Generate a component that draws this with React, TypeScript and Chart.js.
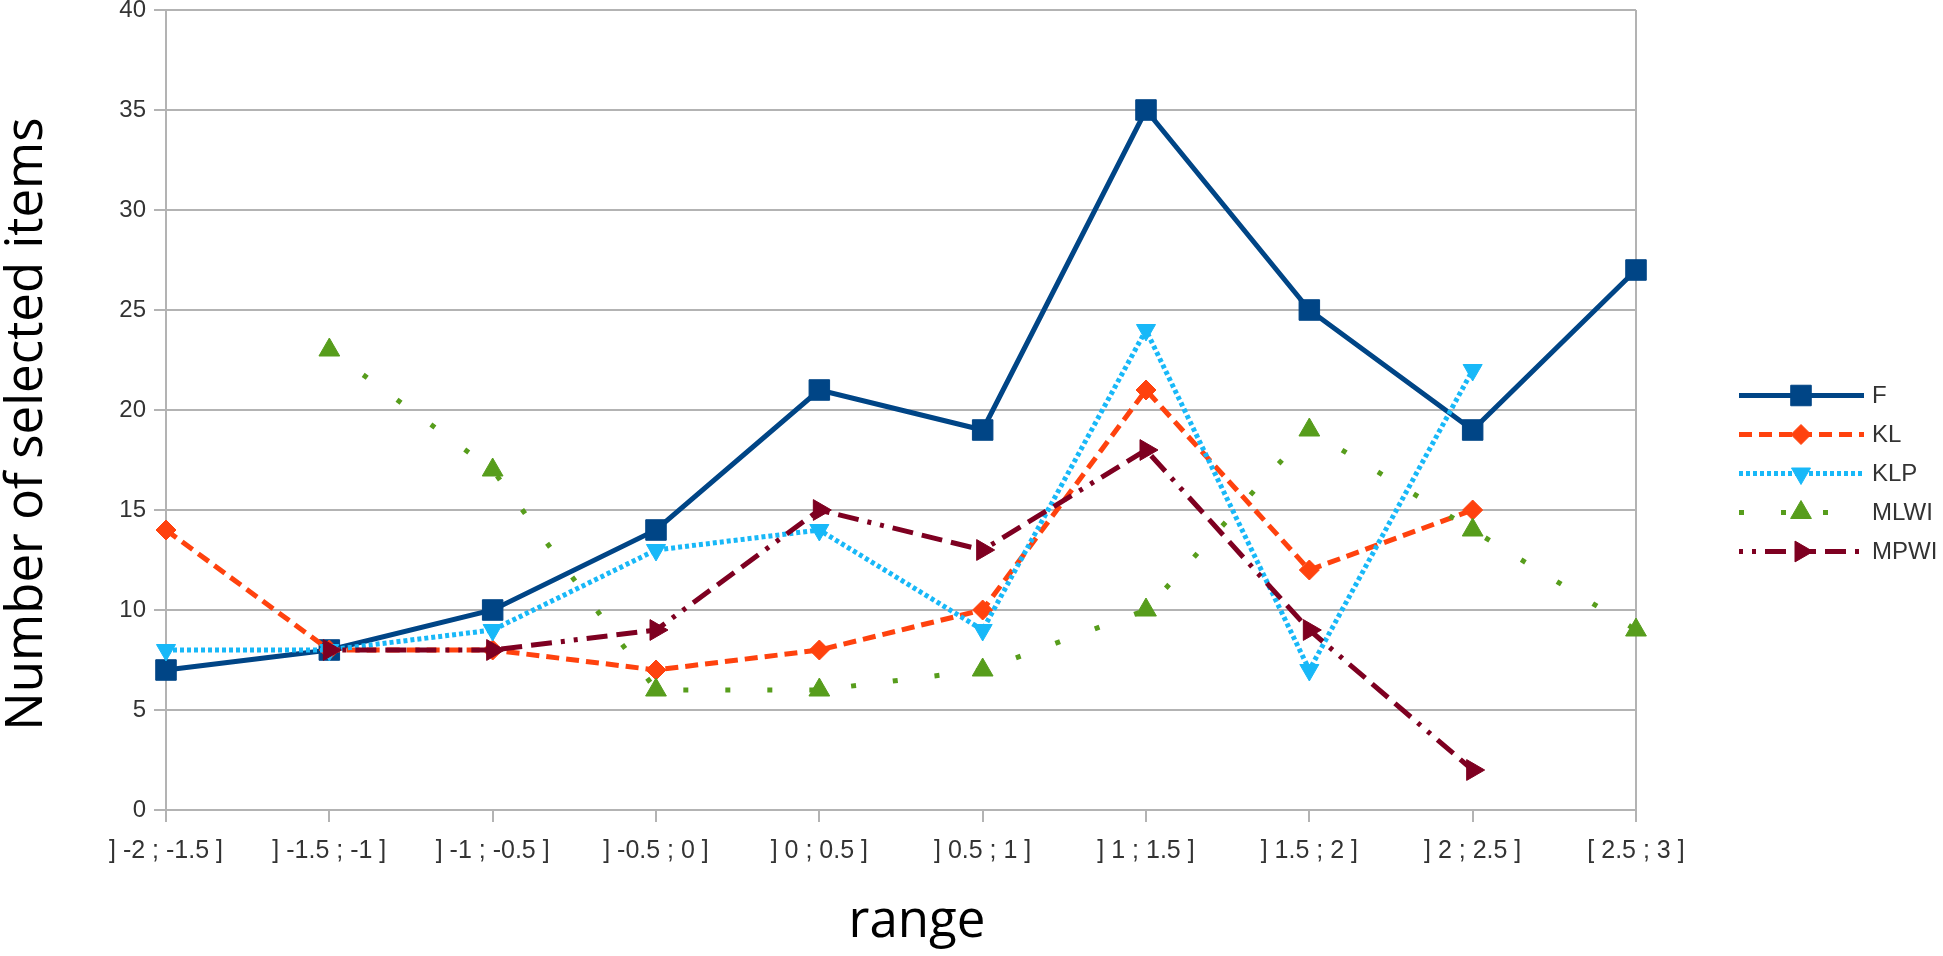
import React, { useEffect, useRef } from "react";
import { Chart, registerables } from "chart.js";

Chart.register(...registerables);

const categories = [
  "] -2 ; -1.5 ]",
  "] -1.5 ; -1 ]",
  "] -1 ; -0.5 ]",
  "] -0.5 ; 0 ]",
  "] 0 ; 0.5 ]",
  "] 0.5 ; 1 ]",
  "] 1 ; 1.5 ]",
  "] 1.5 ; 2 ]",
  "] 2 ; 2.5 ]",
  "[ 2.5 ; 3 ]",
];

const seriesF = [7, 8, 10, 14, 21, 19, 35, 25, 19, 27];
const seriesKL = [14, 8, 8, 7, 8, 10, 21, 12, 15, null];
const seriesKLP = [8, 8, 9, 13, 14, 9, 24, 7, 22, null];
const seriesMLWI = [null, 23, 17, 6, 6, 7, 10, 19, 14, 9];
const seriesMPWI = [null, 8, 8, 9, 15, 13, 18, 9, 2, null];

const yTicks = [0, 5, 10, 15, 20, 25, 30, 35, 40];

const xTitle = "range";
const yTitle = "Number of selected items";

const GRID = "#b3b3b3";
const TEXT = "#333333";
const TITLE_FONT = "51px 'Open Sans', sans-serif";

function drawMarker(ctx: CanvasRenderingContext2D, style: string, r: number, rotDeg: number, x: number, y: number) {
  const rad = (rotDeg * Math.PI) / 180;
  ctx.beginPath();
  if (style === "rect") {
    const s = Math.SQRT1_2 * r;
    ctx.rect(x - s, y - s, 2 * s, 2 * s);
  } else if (style === "rectRot") {
    ctx.moveTo(x, y - r);
    ctx.lineTo(x + r, y);
    ctx.lineTo(x, y + r);
    ctx.lineTo(x - r, y);
    ctx.closePath();
  } else if (style === "triangle") {
    let a = rad;
    ctx.moveTo(x + Math.sin(a) * r, y - Math.cos(a) * r);
    a += (2 * Math.PI) / 3;
    ctx.lineTo(x + Math.sin(a) * r, y - Math.cos(a) * r);
    a += (2 * Math.PI) / 3;
    ctx.lineTo(x + Math.sin(a) * r, y - Math.cos(a) * r);
    ctx.closePath();
  }
  ctx.fill();
  ctx.stroke();
}

const legendPlugin = {
  id: "customLegend",
  afterDraw(chart: any) {
    const ctx = chart.ctx as CanvasRenderingContext2D;
    const x0 = 1739;
    const x1 = 1864;
    const xm = 1801;
    const textX = 1872;
    const y0 = 395.5;
    const dy = 39;
    chart.data.datasets.forEach((ds: any, i: number) => {
      const y = y0 + i * dy;
      ctx.save();
      ctx.strokeStyle = ds.borderColor;
      ctx.lineWidth = ds.borderWidth;
      ctx.setLineDash(ds.borderDash || []);
      ctx.lineCap = "butt";
      ctx.beginPath();
      ctx.moveTo(x0, y);
      ctx.lineTo(x1, y);
      ctx.stroke();
      ctx.setLineDash([]);
      ctx.fillStyle = ds.pointBackgroundColor;
      ctx.strokeStyle = ds.pointBorderColor;
      ctx.lineWidth = 1;
      drawMarker(ctx, ds.pointStyle, ds.pointRadius, ds.pointRotation || 0, xm, y);
      ctx.fillStyle = TEXT;
      ctx.font = "24px 'Liberation Sans', Arial, sans-serif";
      ctx.textBaseline = "middle";
      ctx.textAlign = "left";
      ctx.fillText(ds.label, textX, y + 1);
      ctx.restore();
    });
    // axis titles
    ctx.save();
    ctx.fillStyle = "#000";
    ctx.font = TITLE_FONT;
    ctx.textAlign = "center";
    ctx.textBaseline = "middle";
    ctx.fillText(xTitle, 917, 922);
    ctx.translate(27, 424);
    ctx.rotate(-Math.PI / 2);
    ctx.fillText(yTitle, 0, 0);
    ctx.restore();
  },
};

function mkSet(label: string, data: (number | null)[], color: string, dash: number[], style: string, radius: number, rotation: number, order: number) {
  return {
    label,
    data,
    borderColor: color,
    backgroundColor: color,
    borderWidth: 5,
    borderDash: dash,
    pointStyle: style,
    pointRadius: radius,
    pointHoverRadius: radius,
    pointRotation: rotation,
    pointBackgroundColor: color,
    pointBorderColor: color,
    pointBorderWidth: 1,
    tension: 0,
    fill: false,
    spanGaps: false,
    order,
  };
}

export default function App() {
  const ref = useRef<HTMLCanvasElement | null>(null);
  useEffect(() => {
    if (!ref.current) return;
    const chart = new Chart(ref.current, {
      type: "line",
      data: {
        labels: categories,
        datasets: [
          mkSet("F", seriesF, "#004586", [], "rect", 14.5, 0, 4),
          mkSet("KL", seriesKL, "#ff420e", [13, 7], "rectRot", 10, 0, 3),
          mkSet("KLP", seriesKLP, "#18b8f8", [4, 3], "triangle", 11, 180, 2),
          mkSet("MLWI", seriesMLWI, "#579d1c", [5, 37], "triangle", 12, 0, 1),
          mkSet("MPWI", seriesMPWI, "#7e0021", [4, 9, 4, 9, 21, 9, 21, 9, 21, 9], "triangle", 12, 90, 0),
        ] as any,
      },
      options: {
        animation: false,
        responsive: true,
        maintainAspectRatio: false,
        layout: { autoPadding: false, padding: { top: 0, right: 307, bottom: 0, left: 0 } },
        plugins: {
          legend: { display: false },
          tooltip: { enabled: false },
        },
        scales: {
          x: {
            offset: false,
            grid: {
              display: true,
              color: (c: any) => (c.index === categories.length - 1 ? GRID : "rgba(0,0,0,0)"),
              tickColor: GRID,
              lineWidth: 2,
              tickLength: 12,
            },
            border: { display: true, color: GRID, width: 2 },
            ticks: {
              color: TEXT,
              font: { family: "'Liberation Sans', Arial, sans-serif", size: 25 },
              padding: 14,
              maxRotation: 0,
              autoSkip: false,
            },
            afterFit: (s: any) => {
              s.height = 146;
            },
          },
          y: {
            min: 0,
            max: 40,
            afterBuildTicks: (s: any) => {
              s.ticks = yTicks.map((v) => ({ value: v }));
            },
            grid: {
              color: GRID,
              tickColor: GRID,
              lineWidth: 2,
              tickLength: 12,
            },
            border: { display: true, color: GRID, width: 2 },
            ticks: {
              color: TEXT,
              font: { family: "'Liberation Sans', Arial, sans-serif", size: 24 },
              padding: 8,
            },
            afterFit: (s: any) => {
              s.width = 166;
              s.paddingTop = 10;
              s.paddingBottom = 0;
            },
          },
        },
      },
      plugins: [legendPlugin],
    } as any);
    return () => chart.destroy();
  }, []);
  return (
    <div style={{ position: "fixed", left: 0, top: 0, width: 1943, height: 956, background: "#fff" }}>
      <canvas ref={ref} />
    </div>
  );
}
